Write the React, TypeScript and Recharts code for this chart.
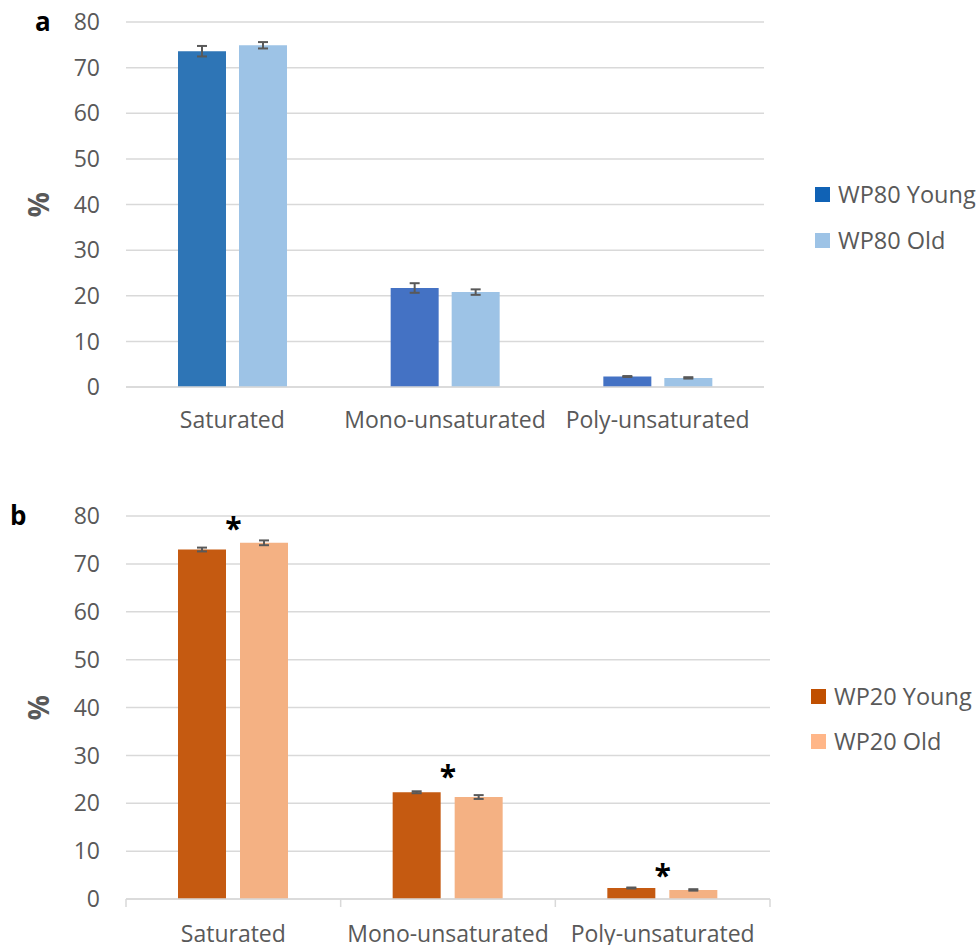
import React from "react";
import {
  ComposedChart,
  Bar,
  Cell,
  ErrorBar,
  Scatter,
  XAxis,
  YAxis,
  CartesianGrid,
  Legend,
  Label,
} from "recharts";

const categories = ["Saturated", "Mono-unsaturated", "Poly-unsaturated"];

// WP80 (panel a)
const wp80Young = [73.6, 21.7, 2.3];
const wp80YoungErr = [1.15, 1.05, 0.1];
const wp80Old = [74.9, 20.8, 2.0];
const wp80OldErr = [0.7, 0.6, 0.15];

// WP20 (panel b)
const wp20Young = [73.0, 22.3, 2.3];
const wp20YoungErr = [0.4, 0.2, 0.1];
const wp20Old = [74.4, 21.3, 1.9];
const wp20OldErr = [0.5, 0.4, 0.15];
const wp20Stars = [78.5, 26.7, 6.1];

const yTicks = [0, 10, 20, 30, 40, 50, 60, 70, 80];

const FONT = "'Open Sans', 'Noto Sans', sans-serif";
const TEXT = "#595959";
const GRID = "#D9D9D9";
const FONT_SIZE = 23;

const wp80YoungFills = ["#2E75B6", "#4472C4", "#4472C4"];

const dataA = categories.map((name, i) => ({
  name,
  young: wp80Young[i],
  youngErr: wp80YoungErr[i],
  old: wp80Old[i],
  oldErr: wp80OldErr[i],
}));

const dataB = categories.map((name, i) => ({
  name,
  young: wp20Young[i],
  youngErr: wp20YoungErr[i],
  old: wp20Old[i],
  oldErr: wp20OldErr[i],
  star: wp20Stars[i],
}));

type LegendItem = { label: string; color: string };

function SideLegend({ items, gap, textX }: { items: LegendItem[]; gap: number; textX: number }) {
  return (
    <div style={{ fontFamily: FONT }}>
      {items.map((it, i) => (
        <div
          key={it.label}
          style={{ display: "flex", alignItems: "center", height: 30, marginTop: i === 0 ? 0 : gap - 30 }}
        >
          <span style={{ display: "inline-block", width: 15, height: 15, background: it.color, marginRight: textX }} />
          <span style={{ fontSize: 23.5, color: TEXT, whiteSpace: "nowrap" }}>{it.label}</span>
        </div>
      ))}
    </div>
  );
}

function PercentLabel(props: any) {
  const vb = props.viewBox || {};
  const cy = (vb.y ?? 0) + (vb.height ?? 0) / 2;
  return (
    <text
      x={38}
      y={cy}
      transform={`rotate(-90 38 ${cy})`}
      textAnchor="middle"
      dominantBaseline="central"
      fontFamily={FONT}
      fontWeight="bold"
      fontSize={28}
      fill={TEXT}
    >
      %
    </text>
  );
}

function StarShape(props: any) {
  const { cx, cy } = props;
  if (cx == null || cy == null) return null;
  return (
    <text x={cx} y={cy + 16} textAnchor="middle" fontFamily={FONT} fontWeight="bold" fontSize={30} fill="#000">
      *
    </text>
  );
}

const B_LEFT = 126;
const B_RIGHT = 209;
const B_HALF_BAND = (979 - B_LEFT - B_RIGHT) / 6;
const B_TICK_LEN = 8;
const B_TICK_MARGIN = 19;

// category labels with tick marks on the category boundaries
function BoundaryTick(props: any) {
  const { x, y, payload, index, visibleTicksCount } = props;
  const half = payload && payload.offset > 0 ? payload.offset : B_HALF_BAND;
  const axisY = y - B_TICK_LEN - B_TICK_MARGIN;
  const last = index === visibleTicksCount - 1;
  return (
    <g>
      <line x1={x - half} y1={axisY} x2={x - half} y2={axisY + B_TICK_LEN} stroke={GRID} strokeWidth={1.5} />
      {last && (
        <line x1={x + half} y1={axisY} x2={x + half} y2={axisY + B_TICK_LEN} stroke={GRID} strokeWidth={1.5} />
      )}
      <text x={x} y={y + 16} textAnchor="middle" fontFamily={FONT} fontSize={FONT_SIZE} fill={TEXT}>
        {payload.value}
      </text>
    </g>
  );
}

const panelLetter = (x: number, y: number, s: string) => (
  <div
    style={{
      position: "absolute",
      left: x,
      top: y,
      fontFamily: FONT,
      fontWeight: "bold",
      fontSize: 26,
      color: "#000",
      lineHeight: 1,
    }}
  >
    {s}
  </div>
);

export default function App() {
  const tick = { fill: TEXT, fontSize: FONT_SIZE, fontFamily: FONT };
  return (
    <div style={{ position: "absolute", left: 0, top: 0, width: 979, height: 945, background: "#fff", overflow: "hidden" }}>
      {panelLetter(35, 8, "a")}
      {panelLetter(10, 502, "b")}

      <div style={{ position: "absolute", left: 0, top: 0 }}>
        <ComposedChart width={979} height={450} data={dataA} margin={{ top: 22, right: 215, bottom: 0, left: 0 }} barGap={13} barSize={48}>
          <CartesianGrid vertical={false} stroke={GRID} strokeWidth={1.5} />
          <XAxis
            dataKey="name"
            height={63}
            axisLine={{ stroke: GRID, strokeWidth: 1.5 }}
            tickLine={false}
            tickMargin={19}
            tick={tick}
          />
          <YAxis
            width={126}
            domain={[0, 80]}
            ticks={yTicks}
            axisLine={false}
            tickLine={false}
            tickMargin={20}
            tick={tick}
          >
            <Label content={<PercentLabel />} />
          </YAxis>
          <Bar dataKey="young" name="WP80 Young" isAnimationActive={false}>
            {dataA.map((d, i) => (
              <Cell key={d.name} fill={wp80YoungFills[i]} />
            ))}
            <ErrorBar dataKey="youngErr" width={5} stroke="#595959" strokeWidth={2} />
          </Bar>
          <Bar dataKey="old" name="WP80 Old" fill="#9DC3E6" isAnimationActive={false}>
            <ErrorBar dataKey="oldErr" width={5} stroke="#595959" strokeWidth={2} />
          </Bar>
          <Legend
            layout="vertical"
            align="center"
            verticalAlign="middle"
            wrapperStyle={{ left: 815, top: 179, width: 170 }}
            content={() => (
              <SideLegend
                gap={46}
                textX={8}
                items={[
                  { label: "WP80 Young", color: "#1062B5" },
                  { label: "WP80 Old", color: "#9DC3E6" },
                ]}
              />
            )}
          />
        </ComposedChart>
      </div>

      <div style={{ position: "absolute", left: 0, top: 490 }}>
        <ComposedChart width={979} height={455} data={dataB} margin={{ top: 26, right: B_RIGHT, bottom: 0, left: 0 }} barGap={14} barSize={48}>
          <CartesianGrid vertical={false} stroke={GRID} strokeWidth={1.5} />
          <XAxis
            dataKey="name"
            height={46}
            axisLine={{ stroke: GRID, strokeWidth: 1.5 }}
            tickLine={false}
            tickSize={B_TICK_LEN}
            tickMargin={B_TICK_MARGIN}
            tick={<BoundaryTick />}
          />
          <YAxis
            width={B_LEFT}
            domain={[0, 80]}
            ticks={yTicks}
            axisLine={false}
            tickLine={false}
            tickMargin={20}
            tick={tick}
          >
            <Label content={<PercentLabel />} />
          </YAxis>
          <Bar dataKey="young" name="WP20 Young" fill="#C55A11" isAnimationActive={false}>
            <ErrorBar dataKey="youngErr" width={5} stroke="#595959" strokeWidth={2} />
          </Bar>
          <Bar dataKey="old" name="WP20 Old" fill="#F4B183" isAnimationActive={false}>
            <ErrorBar dataKey="oldErr" width={5} stroke="#595959" strokeWidth={2} />
          </Bar>
          <Scatter dataKey="star" shape={<StarShape />} legendType="none" isAnimationActive={false} />
          <Legend
            layout="vertical"
            align="center"
            verticalAlign="middle"
            wrapperStyle={{ left: 811, top: 191, width: 170 }}
            content={() => (
              <SideLegend
                gap={45}
                textX={8}
                items={[
                  { label: "WP20 Young", color: "#C04F00" },
                  { label: "WP20 Old", color: "#FFB688" },
                ]}
              />
            )}
          />
        </ComposedChart>
      </div>
    </div>
  );
}
